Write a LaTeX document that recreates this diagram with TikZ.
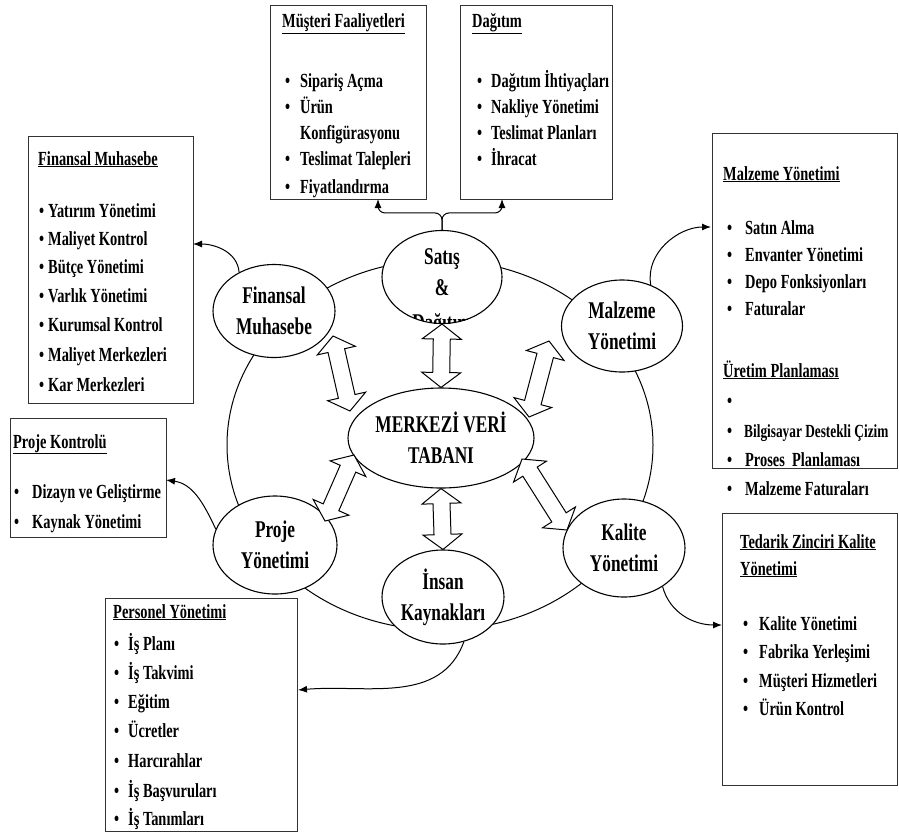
\documentclass[tikz,border=0pt]{standalone}
\usepackage{fontspec}
\setmainfont{Liberation Serif}[FakeStretch=0.72]
\usetikzlibrary{shapes.geometric,shapes.arrows,arrows.meta,calc}
\newcommand\myboxfont{\fontsize{20}{28}\selectfont\bfseries}
\newcommand\myellfont{\fontsize{24}{31}\selectfont\bfseries}
\newcommand\bul[1]{\makebox[#1][l]{\textbullet}}
\newcommand\blockarr[3]{%
  \path let \p1=(#2), \p2=(#3), \n1={atan2(\y2-\y1,\x2-\x1)}, \n2={veclen(\x2-\x1,\y2-\y1)} in
    node[barrow, rotate=\n1, minimum height=\n2] (#1) at ($(#2)!0.5!(#3)$) {};}
\begin{document}
\begin{tikzpicture}[x=1pt,y=1pt,
  ell/.style={ellipse, draw, line width=1.1pt, fill=white, inner sep=0pt, font=\myellfont, align=center},
  boxr/.style={rectangle, draw=black!80, line width=1.4pt, fill=white, anchor=north west, inner sep=0pt},
  itm/.style={anchor=west, inner sep=0pt, font=\myboxfont, text height=14pt, text depth=4pt},
  conn/.style={line width=1pt, -{Latex[length=9pt,width=7pt]}},
  barrow/.style={double arrow, draw, line width=1pt, fill=white, inner xsep=0pt, inner ysep=8pt,
    minimum width=38pt, double arrow head extend=11pt, double arrow tip angle=105}]
\useasboundingbox (0,0) rectangle (899,-833);
\clip (0,0) rectangle (899,-833);
\fill[white] (0,0) rectangle (899,-833);

% ring
\node[draw, ellipse, line width=1pt, minimum width=426pt, minimum height=370pt, inner sep=0pt] (ring) at (440,-445) {};

% module ellipses
\node[ell, minimum width=120pt, minimum height=93pt,
  path picture={
    \node[font=\myellfont, align=center, inner sep=0pt] (satt) at ([yshift=5pt]path picture bounding box.center) {Satış\\\&};
    \node[font=\myellfont, inner sep=0pt] (satd) at ([yshift=-48pt]path picture bounding box.center) {Dağıtım};}] (sat) at (442,-277) {};
\node[ell, minimum width=122pt, minimum height=93pt] (fin) at (274,-311) {Finansal\\Muhasebe};
\node[ell, minimum width=121pt, minimum height=92pt] (mal) at (622,-326) {Malzeme\\Yönetimi};
\node[ell, minimum width=186pt, minimum height=100pt] (merk) at (441,-438) {MERKEZİ VERİ\\TABANI};
\node[ell, minimum width=124pt, minimum height=98pt] (pro) at (275,-545) {Proje\\Yönetimi};
\node[ell, minimum width=122pt, minimum height=98pt] (kal) at (624,-548) {Kalite\\Yönetimi};
\node[ell, minimum width=122pt, minimum height=94pt] (ins) at (443,-597) {İnsan\\Kaynakları};

% block arrows
\coordinate (fa1) at (350,-411); \coordinate (fa2) at (333,-336);
\coordinate (ma1) at (529,-417); \coordinate (ma2) at (549,-341);
\coordinate (pa1) at (354,-455); \coordinate (pa2) at (325,-521);
\coordinate (ka1) at (522,-459); \coordinate (ka2) at (567,-530);
\blockarr{arrS}{merk.north}{sat.south}
\blockarr{arrI}{merk.south}{ins.north}
\blockarr{arrF}{fa1}{fa2}
\blockarr{arrM}{ma1}{ma2}
\blockarr{arrP}{pa1}{pa2}
\blockarr{arrK}{ka1}{ka2}

% boxes
\node[boxr, minimum width=156pt, minimum height=194pt] (mus) at (270,-5) {};
\node[boxr, minimum width=152pt, minimum height=194pt] (dag) at (460,-5) {};
\node[boxr, minimum width=165pt, minimum height=267pt] (fbox) at (28,-136) {};
\node[boxr, minimum width=156pt, minimum height=119pt] (pbox) at (10,-418) {};
\node[boxr, minimum width=185pt, minimum height=335pt] (mbox) at (712,-133) {};
\node[boxr, minimum width=175pt, minimum height=272pt] (tbox) at (722,-513) {};
\node[boxr, minimum width=192pt, minimum height=233pt] (perbox) at (105,-598) {};

% connectors
\coordinate (mtip) at (378,-199); \coordinate (dtip) at (502,-199);
\coordinate (ftip) at (193,-244); \coordinate (ptip) at (166,-480);
\coordinate (mtip2) at (711,-227); \coordinate (ttip) at (722,-625);
\coordinate (ptip2) at (298,-690);
\draw[conn, rounded corners=7pt] (sat.north) -- ++(0,17) -| (mtip);
\draw[conn, rounded corners=7pt] (sat.north) -- ++(0,17) -| (dtip);
\draw[conn] (fin.132) to[out=95, in=0] (ftip);
\draw[conn] (pro.165) to[out=115, in=-8] (ptip);
\draw[conn] (mal.55) to[out=100, in=180] (mtip2);
\draw[conn] (kal.-45) to[out=-75, in=180] (ttip);
\draw[conn] (ins.-65) to[out=-110, in=5] (ptip2);

% texts: Musteri
\node[itm] (mus-t) at (282,-22) {\underline{Müşteri Faaliyetleri}};
\foreach \y/\t [count=\i] in {82/{\bul{15pt}Sipariş Açma}, 108/{\bul{15pt}Ürün}, 134/{\hspace*{15pt}Konfigürasyonu}, 160/{\bul{15pt}Teslimat Talepleri}, 188/{\bul{15pt}Fiyatlandırma}}
  \node[itm] (mus-\i) at (285,-\y) {\t};
% Dagitim
\node[itm] (dag-t) at (472,-22) {\underline{Dağıtım}};
\foreach \y/\t [count=\i] in {82/{Dağıtım İhtiyaçları}, 108/{Nakliye Yönetimi}, 134/{Teslimat Planları}, 160/{İhracat}}
  \node[itm] (dag-\i) at (477,-\y) {\bul{14pt}\t};
% Finansal
\node[itm] (fbox-t) at (38,-160) {\underline{Finansal Muhasebe}};
\foreach \y/\t [count=\i] in {212/{Yatırım Yönetimi}, 240/{Maliyet Kontrol}, 268/{Bütçe Yönetimi}, 297/{Varlık Yönetimi}, 326/{Kurumsal Kontrol}, 356/{Maliyet Merkezleri}, 386/{Kar Merkezleri}}
  \node[itm] (fbox-\i) at (39,-\y) {\bul{9pt}\t};
% Proje Kontrolu
\node[itm] (pbox-t) at (13,-443) {\underline{Proje Kontrolü}};
\foreach \y/\t [count=\i] in {493/{Dizayn ve Geliştirme}, 523/{Kaynak Yönetimi}}
  \node[itm] (pbox-\i) at (14,-\y) {\bul{18pt}\t};
% Malzeme box
\node[itm] (mbox-t) at (723,-175) {\underline{Malzeme Yönetimi}};
\foreach \y/\t [count=\i] in {229/{Satın Alma}, 256/{Envanter Yönetimi}, 283/{Depo Fonksiyonları}, 310/{Faturalar}}
  \node[itm] (mbox-\i) at (727,-\y) {\bul{18pt}\t};
\node[itm] (mbox-u) at (723,-372) {\underline{Üretim Planlaması}};
\node[itm] (mbox-v1) at (727,-402) {\bul{18pt}};
\node[itm] (mbox-v2) at (727,-432) {\bul{17pt}{\fontsize{18.5}{28}\selectfont Bilgisayar Destekli Çizim}};
\node[itm] (mbox-v3) at (727,-461) {\bul{18pt}Proses\ \ Planlaması};
\node[itm] (mbox-v4) at (727,-490) {\bul{18pt}Malzeme Faturaları};
% Tedarik
\node[itm] (tbox-t1) at (740,-543) {\underline{Tedarik Zinciri Kalite}};
\node[itm] (tbox-t2) at (740,-570) {\underline{Yönetimi}};
\foreach \y/\t [count=\i] in {625/{Kalite Yönetimi}, 653/{Fabrika Yerleşimi}, 682/{Müşteri Hizmetleri}, 710/{Ürün Kontrol}}
  \node[itm] (tbox-\i) at (743,-\y) {\bul{16pt}\t};
% Personel
\node[itm] (per-t) at (113,-613) {\underline{Personel Yönetimi}};
\foreach \y/\t [count=\i] in {645/{İş Planı}, 674/{İş Takvimi}, 703/{Eğitim}, 732/{Ücretler}, 762/{Harcırahlar}, 792/{İş Başvuruları}, 820/{İş Tanımları}}
  \node[itm] (per-\i) at (114,-\y) {\bul{14pt}\t};
\end{tikzpicture}
\end{document}
